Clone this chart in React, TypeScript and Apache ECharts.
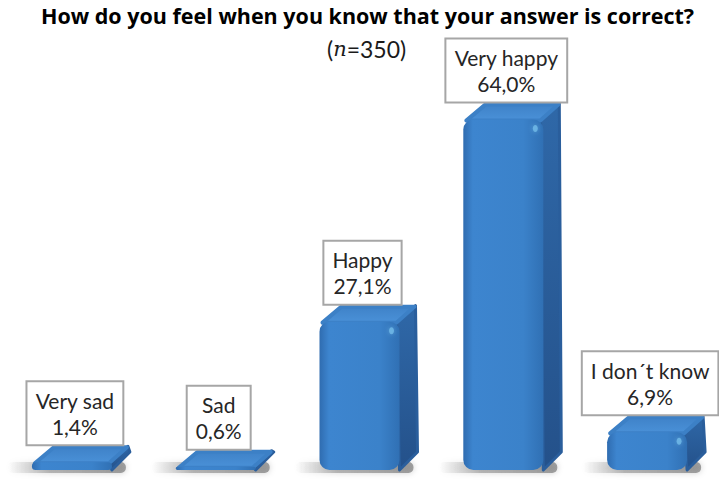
import React, { useEffect, useRef } from "react";
import * as echarts from "echarts";

const categories = ["Very sad", "Sad", "Happy", "Very happy", "I don\u00b4t know"];
const values = [1.4, 0.6, 27.1, 64.0, 6.9];
const valueLabels = ["1,4%", "0,6%", "27,1%", "64,0%", "6,9%"];
const titleText = "How do you feel when you know that your answer is correct?";
const sampleSize = 350;

export default function App() {
  const ref = useRef<HTMLDivElement>(null);
  useEffect(() => {
    const chart = echarts.init(ref.current as HTMLDivElement, null, { renderer: "svg" });
    const DX = 18;
    const DY = 16;
    const BW = 80;
    const renderItem = (params: any, api: any) => {
      const idx = api.value(0);
      const val = api.value(1);
      const base = api.coord([idx, 0]);
      const top = api.coord([idx, val]);
      const cx = base[0];
      const x0 = cx - BW / 2;
      const x1 = cx + BW / 2;
      const yB = base[1];
      const yT = top[1];
      const h = Math.max(yB - yT, 2);
      const r = Math.min(10, h / 2);
      const children: any[] = [
        {
          type: "rect",
          shape: { x: x0 - 24, y: yB - 8, width: BW + DX + 20, height: 11, r: 5 },
          style: {
            fill: new echarts.graphic.LinearGradient(0, 0, 1, 0, [
              { offset: 0, color: "rgba(120,120,120,0)" },
              { offset: 0.35, color: "rgba(110,110,110,0.45)" },
              { offset: 1, color: "rgba(90,90,90,0.55)" },
            ]),
            shadowBlur: 6,
            shadowColor: "rgba(0,0,0,0.35)",
          },
        },
        {
          type: "polygon",
          shape: { points: [[x1 - 3, yT], [x1 + DX - 2, yT - DY], [x1 + DX, yB - DY - 2], [x1, yB]] },
          style: {
            fill: new echarts.graphic.LinearGradient(0, 0, 0, 1, [
              { offset: 0, color: "#2F68A8" },
              { offset: 1, color: "#24518A" },
            ]),
            stroke: "#2A5E9C",
            lineWidth: 3,
            lineJoin: "round",
          },
        },
        {
          type: "polygon",
          shape: { points: [[x0 + 3, yT + 1], [x0 + DX + 4, yT - DY + 1], [x1 + DX - 3, yT - DY + 1], [x1 - 3, yT + 1]] },
          style: {
            fill: new echarts.graphic.LinearGradient(0, 0, 0, 1, [
              { offset: 0, color: "#3F82C8" },
              { offset: 1, color: "#4A91D8" },
            ]),
            stroke: "#3C80C6",
            lineWidth: 4,
            lineJoin: "round",
          },
        },
        {
          type: "rect",
          shape: { x: x0, y: yT, width: BW, height: h, r },
          style: {
            fill: new echarts.graphic.LinearGradient(0, 0, 1, 0, [
              { offset: 0, color: "#2F6CB0" },
              { offset: 0.12, color: "#3D85CF" },
              { offset: 0.75, color: "#3B82CA" },
              { offset: 1, color: "#3070B4" },
            ]),
          },
        },
      ];
      if (h > 20) {
        children.push({
          type: "ellipse",
          shape: { cx: x1 - 8, cy: yT + 9, rx: 2.5, ry: 3.5 },
          style: { fill: "rgba(130,205,245,0.6)", shadowBlur: 5, shadowColor: "rgba(130,205,245,0.8)" },
        });
      }
      children.push({
        type: "text",
        x: cx + 3,
        y: yT - DY - 2,
        style: {
          text: categories[idx] + "\n" + valueLabels[idx],
          align: "center",
          textAlign: "center",
          verticalAlign: "bottom",
          textVerticalAlign: "bottom",
          fontFamily: "Lato",
          fontSize: 21,
          lineHeight: 26,
          fill: "#262626",
          backgroundColor: "#ffffff",
          borderColor: "#A6A6A6",
          borderWidth: 2,
          padding: [5, 8, 5, 8],
        },
      });
      return { type: "group", children };
    };
    chart.setOption({
      animation: false,
      title: [
        {
          text: titleText,
          left: 41,
          top: 4,
          padding: 0,
          textStyle: { fontFamily: "Open Sans", fontWeight: "bold", fontSize: 21.5, color: "#000" },
        },
        {
          text: "{p|(}{n|n}{p|=" + sampleSize + ")}",
          left: 327,
          top: 37,
          padding: 0,
          textStyle: {
            fontWeight: "normal",
            rich: {
              p: { fontFamily: "Lato", fontSize: 23, fontWeight: "normal", color: "#1a1a1a" },
              n: { fontFamily: "DejaVu Serif", fontStyle: "italic", fontWeight: "normal", fontSize: 21, color: "#1a1a1a" },
            },
          },
        },
      ],
      grid: { left: -15, right: -16, top: 32, bottom: 11 },
      xAxis: { type: "category", data: categories, show: false },
      yAxis: { type: "value", min: 0, max: 80, show: false },
      series: [
        {
          type: "custom",
          renderItem,
          clip: false,
          data: values.map((v, i) => [i, v]),
          encode: { x: 0, y: 1 },
        },
      ],
    });
    return () => chart.dispose();
  }, []);
  return (
    <div
      ref={ref}
      style={{ position: "fixed", left: 0, top: 0, width: 719, height: 481, background: "#fff" }}
    />
  );
}
